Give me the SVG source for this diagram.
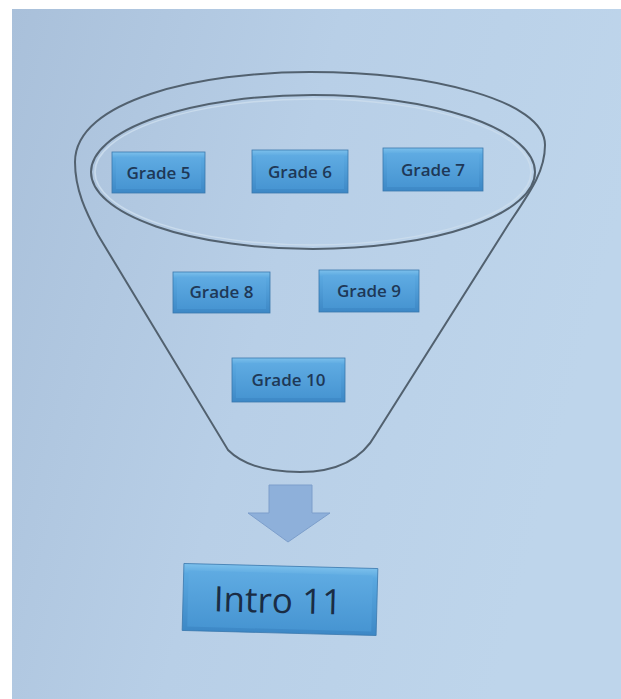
<svg xmlns="http://www.w3.org/2000/svg" width="621" height="699" viewBox="0 0 621 699">
  <defs>
    <linearGradient id="bg" x1="0" y1="0" x2="1" y2="0.3">
      <stop offset="0" stop-color="#a9c0da"/>
      <stop offset="0.5" stop-color="#b8cfe7"/>
      <stop offset="1" stop-color="#bed5eb"/>
    </linearGradient>
    <linearGradient id="funnelg" x1="0" y1="0" x2="0" y2="1">
      <stop offset="0" stop-color="#bfd3e8"/>
      <stop offset="1" stop-color="#c6d8ea"/>
    </linearGradient>
    <linearGradient id="boxg" x1="0" y1="0" x2="0" y2="1">
      <stop offset="0" stop-color="#7cc0ec"/>
      <stop offset="0.15" stop-color="#5aa8e0"/>
      <stop offset="1" stop-color="#3d88c6"/>
    </linearGradient>
    <linearGradient id="faceg" x1="0" y1="0" x2="0" y2="1">
      <stop offset="0" stop-color="#5fabe2"/>
      <stop offset="1" stop-color="#4795d2"/>
    </linearGradient>
  </defs>
  <style>
    .box { fill: url(#boxg); stroke: #3a78ad; stroke-width: 0.8; }
    .face { fill: url(#faceg); }
    .lbl { font-family: "Open Sans", "Noto Sans", "Liberation Sans", sans-serif; font-size: 17px; font-weight: 600; fill: #1e3857; text-anchor: middle; }
    .big { font-size: 35px; font-weight: 400; fill: #1a2c44; }
    .outline { fill: none; stroke: #52616f; stroke-width: 2; }
  </style>

  <rect x="0" y="0" width="621" height="699" fill="#ffffff"/>
  <rect x="12" y="9" width="609" height="690" fill="url(#bg)"/>

  <g id="funnel">
    <path d="M 75 162 C 75 100 200 72 310 72 C 430 72 545 100 545 145 C 545 172 530 192 508 225 L 376 434 Q 355 472 300 472 Q 250 472 228 450 L 98 235 C 86 212 75 190 75 162 Z" fill="url(#funnelg)" class="outline"/>
    <ellipse cx="313" cy="172" rx="222" ry="77" fill="#bccfe4" class="outline"/>
    <ellipse cx="313" cy="172" rx="218" ry="73" fill="none" stroke="#c9dbec" stroke-width="1.5"/>
  </g>

  <g id="connectors">
    <polygon points="269,485 312,485 312,513 330,513 288,542 248,513 269,513" fill="#8eb0da" stroke="#7c9ecb" stroke-width="1"/>
  </g>

  <g id="grade5">
    <rect class="box" x="112" y="152" width="93" height="41"/>
    <rect class="face" x="116" y="157" width="85" height="32"/>
    <text class="lbl" x="158.5" y="179">Grade 5</text>
  </g>
  <g id="grade6">
    <rect class="box" x="252" y="150" width="96" height="43"/>
    <rect class="face" x="256" y="155" width="88" height="34"/>
    <text class="lbl" x="300" y="178">Grade 6</text>
  </g>
  <g id="grade7">
    <rect class="box" x="383" y="148" width="100" height="43"/>
    <rect class="face" x="387" y="153" width="92" height="34"/>
    <text class="lbl" x="433" y="176">Grade 7</text>
  </g>
  <g id="grade8">
    <rect class="box" x="173" y="272" width="97" height="41"/>
    <rect class="face" x="177" y="277" width="89" height="32"/>
    <text class="lbl" x="221.5" y="298">Grade 8</text>
  </g>
  <g id="grade9">
    <rect class="box" x="319" y="270" width="100" height="42"/>
    <rect class="face" x="323" y="275" width="92" height="33"/>
    <text class="lbl" x="369" y="297">Grade 9</text>
  </g>
  <g id="grade10">
    <rect class="box" x="232" y="358" width="113" height="44"/>
    <rect class="face" x="236" y="363" width="105" height="35"/>
    <text class="lbl" x="288.5" y="386">Grade 10</text>
  </g>
  <g id="intro11" transform="rotate(1.5 280 600)">
    <rect class="box" x="183" y="566" width="194" height="67"/>
    <rect class="face" x="188" y="573" width="184" height="56"/>
    <text class="lbl big" x="278" y="613">Intro 11</text>
  </g>
</svg>
